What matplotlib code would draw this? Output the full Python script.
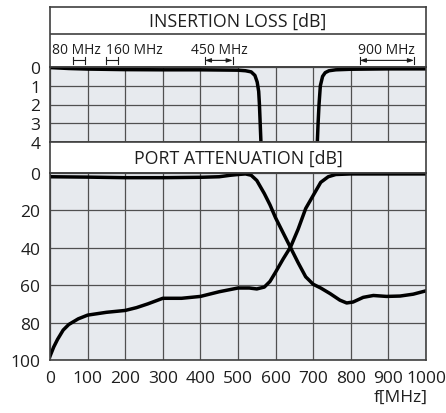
import matplotlib
matplotlib.use("Agg")
import matplotlib.pyplot as plt

# ---------------- data ----------------
x_ticks = [0, 100, 200, 300, 400, 500, 600, 700, 800, 900, 1000]
il_ticks = [0, 1, 2, 3, 4]
pa_ticks = [0, 20, 40, 60, 80, 100]

# insertion loss, low band branch
il_low_f = [0, 20, 50, 100, 200, 300, 400, 500, 520, 535, 545, 551, 555, 557, 559, 561]
il_low_v = [0.03, 0.05, 0.08, 0.11, 0.14, 0.15, 0.15, 0.17, 0.2, 0.26, 0.45, 0.8, 1.3, 2.0, 3.0, 4.0]
# insertion loss, high band branch
il_high_f = [711, 713, 715.5, 719, 725, 732, 742, 760, 800, 900, 1000]
il_high_v = [4.0, 3.0, 2.0, 1.0, 0.5, 0.3, 0.2, 0.15, 0.12, 0.1, 0.1]

# port attenuation curve A (low-pass port)
pa_a_f = [0, 100, 200, 300, 400, 450, 480, 500, 520, 535, 550, 570, 585, 600, 620, 640, 660, 680,
          700, 720, 745, 771, 789, 806, 833, 860, 895, 931, 966, 1000]
pa_a_v = [2.0, 2.2, 2.5, 2.5, 2.3, 2.0, 1.2, 0.8, 0.5, 1.2, 4.0, 11.0, 17.0, 24.0, 32.0, 40.0, 48.0, 55.5,
          59.5, 61.5, 64.5, 68.0, 69.5, 69.0, 66.5, 65.5, 66.0, 65.8, 64.8, 63.0]
# port attenuation curve B (high-pass port)
pa_b_f = [0, 10, 20, 35, 50, 75, 100, 150, 200, 230, 260, 300, 350, 400, 450, 500, 530, 550, 570,
          585, 600, 620, 640, 660, 680, 700, 720, 740, 760, 800, 900, 1000]
pa_b_v = [98.0, 93.0, 89.0, 84.0, 81.0, 78.0, 76.0, 74.5, 73.5, 72.0, 70.0, 67.0, 67.0, 66.0, 63.5, 61.5,
          61.5, 62.0, 61.0, 58.0, 53.0, 46.0, 39.5, 30.0, 19.0, 12.0, 5.0, 2.0, 0.8, 0.5, 0.5, 0.5]

# band markers: (label, label x, bracket start, bracket end, with arrows)
band_labels = ["80 MHz", "160 MHz", "450 MHz", "900 MHz"]
band_text_x = [5, 150, 375, 820]
band_start = [62, 148, 412, 824]
band_end = [92, 182, 486, 968]
band_arrows = [False, False, True, True]

# ---------------- style ----------------
FONT = "Open Sans"
plt.rcParams["font.family"] = [FONT, "DejaVu Sans"]
BG = "#e7eaee"
GRID = "#505050"
FRAME = "#404040"
TXT = "#1e1e1e"

W, H = 446, 414
fig = plt.figure(figsize=(W / 100, H / 100), dpi=100)
fig.patch.set_facecolor("white")

L, R = 50, 426


def box(top, bottom):
    return [L / W, 1 - bottom / H, (R - L) / W, (bottom - top) / H]


def style_axes(ax, ylim, yticks, show_x):
    ax.set_facecolor(BG)
    ax.set_xlim(0, 1000)
    ax.set_ylim(*ylim)
    ax.set_xticks(x_ticks)
    ax.set_yticks(yticks)
    ax.grid(True, color=GRID, linewidth=0.9)
    ax.set_axisbelow(True)
    ax.tick_params(length=0, labelsize=12.5, colors=TXT, pad=7)
    if not show_x:
        ax.tick_params(labelbottom=False)
    for s in ax.spines.values():
        s.set_color(FRAME)
        s.set_linewidth(1.2)


# header (insertion loss title + band markers)
hdr = fig.add_axes(box(8, 68))
hdr.set_xlim(0, 1000)
hdr.set_ylim(0, 1)
hdr.set_xticks([])
hdr.set_yticks([])
for s in hdr.spines.values():
    s.set_color(FRAME)
    s.set_linewidth(1.2)
hdr.axhline((68 - 35) / 60, color=FRAME, linewidth=1.2)
hdr.text(500, (68 - 21.5) / 60, "INSERTION LOSS [dB]", ha="center", va="center",
         fontsize=12.8, color=TXT)
for lab, tx, a, b, arr in zip(band_labels, band_text_x, band_start, band_end, band_arrows):
    hdr.text(tx, 0.30, lab, ha="left", va="center", fontsize=10, color=TXT)
    yb = 0.11
    hdr.plot([a, a], [yb - 0.06, yb + 0.06], color=TXT, linewidth=0.8)
    hdr.plot([b, b], [yb - 0.06, yb + 0.06], color=TXT, linewidth=0.8)
    if arr:
        hdr.annotate("", xy=(a, yb), xytext=(b, yb),
                     arrowprops=dict(arrowstyle="<|-|>,head_length=0.35,head_width=0.12",
                                     color=TXT, linewidth=0.8, shrinkA=0, shrinkB=0))
    else:
        hdr.plot([a, b], [yb, yb], color=TXT, linewidth=0.8)

# insertion loss axes
ax1 = fig.add_axes(box(68, 143))
style_axes(ax1, (4, 0), il_ticks, False)
ax1.plot(il_low_f, il_low_v, color="black", linewidth=2.5, solid_capstyle="butt")
ax1.plot(il_high_f, il_high_v, color="black", linewidth=2.5, solid_capstyle="butt")

# port attenuation title box
hdr2 = fig.add_axes(box(143, 174))
hdr2.set_xticks([])
hdr2.set_yticks([])
for s in hdr2.spines.values():
    s.set_color(FRAME)
    s.set_linewidth(1.2)
hdr2.text(0.5, 0.5, "PORT ATTENUATION [dB]", ha="center", va="center",
          fontsize=12.8, color=TXT, transform=hdr2.transAxes)

# port attenuation axes
ax2 = fig.add_axes(box(174, 361))
style_axes(ax2, (100, 0), pa_ticks, True)
ax2.plot(pa_a_f, pa_a_v, color="black", linewidth=2.5)
ax2.plot(pa_b_f, pa_b_v, color="black", linewidth=2.5)

fig.text(428 / W, 1 - 398 / H, "f[MHz]", ha="right", va="center", fontsize=12.5, color=TXT)

fig.savefig("out.png", dpi=100, facecolor="white")
